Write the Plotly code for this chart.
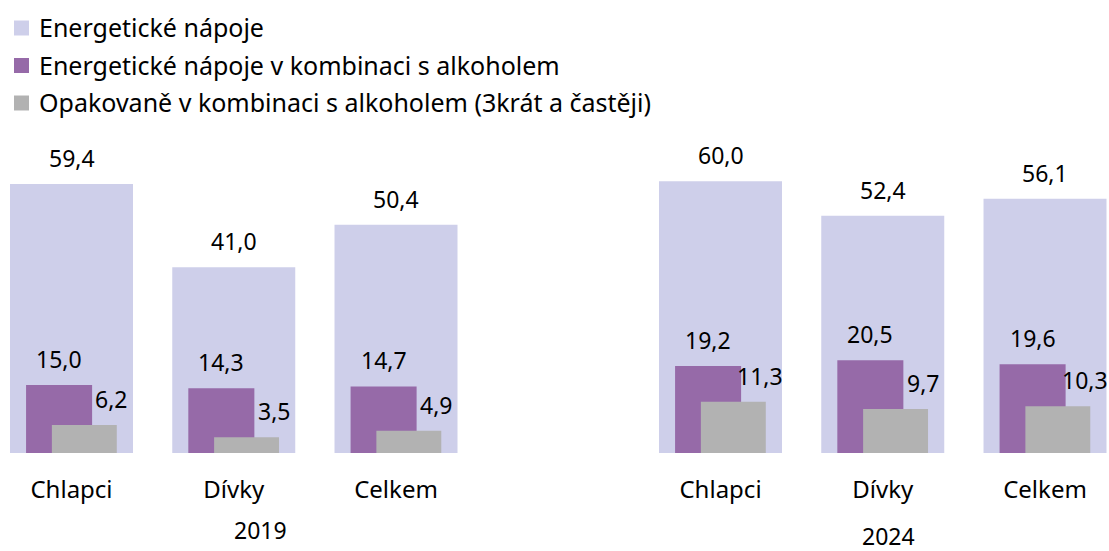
import plotly.graph_objects as go

# ---- data ----
categories = ["Chlapci", "Dívky", "Celkem", "Chlapci", "Dívky", "Celkem"]
years = ["2019", "2024"]
positions = [0, 1, 2, 4, 5, 6]  # blank slot between the two years
energy = [59.4, 41.0, 50.4, 60.0, 52.4, 56.1]
energy_alc = [15.0, 14.3, 14.7, 19.2, 20.5, 19.6]
repeated_alc = [6.2, 3.5, 4.9, 11.3, 9.7, 10.3]
series_names = [
    "Energetické nápoje",
    "Energetické nápoje v kombinaci s alkoholem",
    "Opakovaně v kombinaci s alkoholem (3krát a častěji)",
]

# ---- style ----
FONT = "Noto Sans"
FS_NUM = 23
FS_CAT = 24
FS_LEG = 25
C_ENERGY = "#CECFEA"
C_ALC = "#966AA8"
C_REP = "#B2B2B2"
colors = [C_ENERGY, C_ALC, C_REP]

W_E, O_E = 0.758, -0.379
W_A, O_A = 0.407, -0.280
W_R, O_R = 0.400, -0.121

FIG_W, FIG_H = 1109, 551
M_T, M_B = 20, 98
PLOT_H = FIG_H - M_T - M_B
PX_PER_UNIT = 4.53


def fmt(v):
    return f"{v:.1f}".replace(".", ",")


def paper_x(px):
    return px / FIG_W


def paper_y(py):
    return (FIG_H - M_B - py) / PLOT_H


fig = go.Figure()
fig.add_bar(x=positions, y=energy, width=W_E, offset=O_E, marker_color=C_ENERGY,
            marker_line_width=0, name=series_names[0], hoverinfo="skip")
fig.add_bar(x=positions, y=energy_alc, width=W_A, offset=O_A, marker_color=C_ALC,
            marker_line_width=0, name=series_names[1], hoverinfo="skip")
fig.add_bar(x=positions, y=repeated_alc, width=W_R, offset=O_R, marker_color=C_REP,
            marker_line_width=0, name=series_names[2], hoverinfo="skip")

annotations = []
for p, e, a, r in zip(positions, energy, energy_alc, repeated_alc):
    annotations.append(dict(x=p + O_E + W_E / 2, y=e, text=fmt(e), yshift=26))
    annotations.append(dict(x=p + O_A + W_A / 2, y=a, text=fmt(a), yshift=26))
    annotations.append(dict(x=p + O_R + W_R / 2, y=r, text=fmt(r), yshift=26, xshift=27))
for an in annotations:
    an.update(xref="x", yref="y", showarrow=False, yanchor="middle", xanchor="center",
              font=dict(family=FONT, size=FS_NUM, color="#000000"))

# year labels below the category labels
annotations.append(dict(x=paper_x(260), y=paper_y(530), xref="paper", yref="paper",
                        text=years[0], showarrow=False, xanchor="center", yanchor="middle",
                        font=dict(family=FONT, size=FS_NUM, color="#000000")))
annotations.append(dict(x=paper_x(888), y=paper_y(536), xref="paper", yref="paper",
                        text=years[1], showarrow=False, xanchor="center", yanchor="middle",
                        font=dict(family=FONT, size=FS_NUM, color="#000000")))

# legend (drawn as squares + text, top-left)
shapes = []
row_y = [28, 65.5, 103]
for name, col, ry in zip(series_names, colors, row_y):
    shapes.append(dict(type="rect", xref="paper", yref="paper",
                       x0=paper_x(14), x1=paper_x(29),
                       y0=paper_y(ry + 7.5), y1=paper_y(ry - 7.5),
                       fillcolor=col, line=dict(width=0)))
    annotations.append(dict(x=paper_x(37), y=paper_y(ry - 1), xref="paper", yref="paper",
                            text=name, showarrow=False, xanchor="left", yanchor="middle",
                            font=dict(family=FONT, size=FS_LEG, color="#000000")))

fig.update_layout(
    width=FIG_W, height=FIG_H,
    margin=dict(l=0, r=0, t=M_T, b=M_B),
    barmode="overlay",
    plot_bgcolor="white", paper_bgcolor="white",
    font=dict(family=FONT, size=FS_NUM, color="#000000"),
    showlegend=False,
    annotations=annotations,
    shapes=shapes,
    xaxis=dict(range=[-0.4407, 6.3944], tickmode="array", tickvals=positions,
               ticktext=categories, showgrid=False, zeroline=False, showline=False,
               ticks="", ticklabelstandoff=20,
               tickfont=dict(family=FONT, size=FS_CAT, color="#000000")),
    yaxis=dict(range=[0, PLOT_H / PX_PER_UNIT], visible=False, showgrid=False,
               zeroline=False),
)

# place the figure at the page's top-left corner (no default body margin)
fig.write_html("out.html", config={"displayModeBar": False},
               post_script="document.body.style.margin='0';document.body.style.overflow='hidden';")
